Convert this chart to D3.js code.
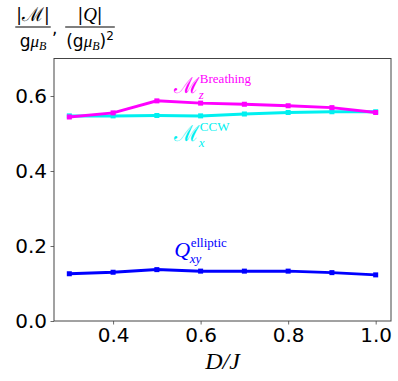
<!DOCTYPE html>
<html>
<head>
<meta charset="utf-8">
<script src="https://cdn.jsdelivr.net/npm/d3@7.9.0/dist/d3.min.js"></script>
<style>
  body { margin: 0; background: #fff; }
  svg { display: block; }
  .tick text { font-family: "DejaVu Sans", sans-serif; font-size: 20px; fill: #000; }
  .lbl { font-family: "Liberation Serif", "DejaVu Serif", serif; }
</style>
</head>
<body>
<svg width="398" height="381"></svg>
<script>
// D/J values and the three curves
const dj = [0.3, 0.4, 0.5, 0.6, 0.7, 0.8, 0.9, 1.0];
const breathing = [0.544, 0.555, 0.587, 0.581, 0.578, 0.574, 0.569, 0.556];
const ccw = [0.547, 0.547, 0.548, 0.547, 0.552, 0.556, 0.558, 0.558];
const elliptic = [0.126, 0.130, 0.137, 0.133, 0.133, 0.133, 0.129, 0.123];

const xTicks = [0.4, 0.6, 0.8, 1.0];
const yTicks = [0.0, 0.2, 0.4, 0.6];

const svg = d3.select("svg"),
      margin = {top: 58.5, right: 7, bottom: 60, left: 54},
      width = +svg.attr("width") - margin.left - margin.right,
      height = +svg.attr("height") - margin.top - margin.bottom,
      g = svg.append("g").attr("transform", `translate(${margin.left},${margin.top})`);

const x = d3.scaleLinear().domain([0.265, 1.035]).range([0, width]);
const y = d3.scaleLinear().domain([0, 0.7]).range([height, 0]);

const colors = {
  breathing: "#ff00ff",
  ccw: "#00f0f0",
  elliptic: "#0000ff"
};

// axes
const xAxis = g.append("g")
  .attr("transform", `translate(0,${height})`)
  .call(d3.axisBottom(x).tickValues(xTicks).tickFormat(d3.format(".1f")).tickSize(3.5).tickPadding(3.5));
const yAxis = g.append("g")
  .call(d3.axisLeft(y).tickValues(yTicks).tickFormat(d3.format(".1f")).tickSize(3.5).tickPadding(3.5));
[xAxis, yAxis].forEach(a => {
  a.select(".domain").remove();
  a.selectAll(".tick line").attr("stroke", "#444").attr("stroke-width", 0.8);
});

// frame
g.append("rect")
  .attr("width", width)
  .attr("height", height)
  .attr("fill", "none")
  .attr("stroke", "#444")
  .attr("stroke-width", 1);

const line = d3.line().x((d, i) => x(dj[i])).y(d => y(d));

const series = [
  {key: "elliptic", values: elliptic},
  {key: "ccw", values: ccw},
  {key: "breathing", values: breathing}
];

for (let s of series) {
  g.append("path")
    .datum(s.values)
    .attr("fill", "none")
    .attr("stroke", colors[s.key])
    .attr("stroke-width", 3)
    .attr("d", line);
  g.selectAll(`.mk-${s.key}`)
    .data(s.values)
    .join("rect")
    .attr("class", `mk-${s.key}`)
    .attr("x", (d, i) => x(dj[i]) - 2.5)
    .attr("y", d => y(d) - 2.5)
    .attr("width", 5)
    .attr("height", 5)
    .attr("fill", colors[s.key]);
}

// curve labels: main symbol, superscript and subscript as separate texts
function curveLabel(px, py, color, main, mainStyle, sup, sub) {
  const m = g.append("text")
    .attr("class", "lbl")
    .attr("x", x(px))
    .attr("y", y(py))
    .attr("fill", color)
    .attr("font-size", 22)
    .attr("style", mainStyle)
    .text(main);
  const x2 = x(px) + m.node().getComputedTextLength() + 0.5;
  g.append("text").attr("class", "lbl")
    .attr("x", x2).attr("y", y(py) - 10)
    .attr("fill", color).attr("font-size", 13).text(sup);
  g.append("text").attr("class", "lbl")
    .attr("x", x2 - 1).attr("y", y(py) + 6)
    .attr("fill", color).attr("font-size", 13).attr("font-style", "italic").text(sub);
}
curveLabel(0.54, 0.608, colors.breathing, "ℳ", "font-family:'DejaVu Serif'", "Breathing", "z");
curveLabel(0.54, 0.48, colors.ccw, "ℳ", "font-family:'DejaVu Serif'", "CCW", "x");
curveLabel(0.54, 0.171, colors.elliptic, "Q", "font-style:italic", "elliptic", "xy");

// x label
svg.append("text")
  .attr("class", "lbl")
  .attr("x", margin.left + width / 2)
  .attr("y", 369)
  .attr("text-anchor", "middle")
  .attr("font-size", 24)
  .attr("font-style", "italic")
  .text("D/J");

// y label: two fractions at top left
const yl = svg.append("g").attr("font-family", "DejaVu Sans").attr("font-size", 17);
function frac(cx, num, den) {
  const n = yl.append("text").attr("x", cx).attr("y", 21).attr("text-anchor", "middle");
  num(n);
  const d = yl.append("text").attr("x", cx).attr("y", 47).attr("text-anchor", "middle");
  den(d);
  const w = Math.max(n.node().getBBox().width, d.node().getBBox().width);
  yl.append("line")
    .attr("x1", cx - w / 2 - 1).attr("x2", cx + w / 2 + 1)
    .attr("y1", 27).attr("y2", 27)
    .attr("stroke", "#000").attr("stroke-width", 1.2);
}
frac(33, n => {
  n.append("tspan").text("|");
  n.append("tspan").attr("font-family", "DejaVu Serif").attr("font-size", 19).text("ℳ");
  n.append("tspan").text("|");
}, d => {
  d.append("tspan").text("g");
  d.append("tspan").attr("font-style", "italic").attr("font-family", "Liberation Serif").text("μ");
  d.append("tspan").attr("font-size", 12).attr("dy", 3).attr("font-style", "italic").attr("font-family", "Liberation Serif").text("B");
});
yl.append("text").attr("x", 52).attr("y", 34).text(",");
frac(90, n => {
  n.append("tspan").text("|");
  n.append("tspan").attr("font-style", "italic").attr("font-family", "Liberation Serif").attr("font-size", 19).text("Q");
  n.append("tspan").text("|");
}, d => {
  d.append("tspan").text("(g");
  d.append("tspan").attr("font-style", "italic").attr("font-family", "Liberation Serif").text("μ");
  d.append("tspan").attr("font-size", 12).attr("dy", 3).attr("font-style", "italic").attr("font-family", "Liberation Serif").text("B");
  d.append("tspan").attr("dy", -3).text(")");
  d.append("tspan").attr("font-size", 12).attr("dy", -7).text("2");
});
</script>
</body>
</html>
